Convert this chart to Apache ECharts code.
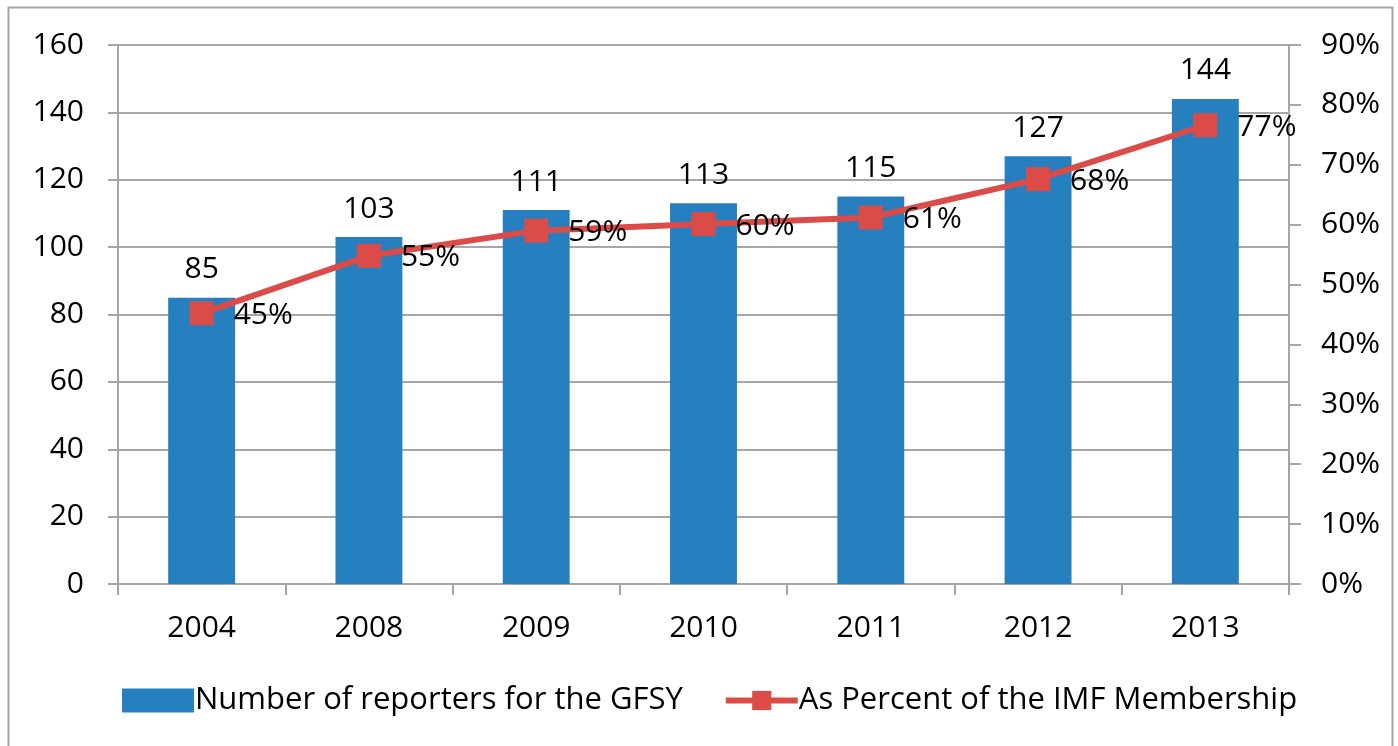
<!DOCTYPE html>
<html>
<head>
<meta charset="utf-8">
<script src="https://cdn.jsdelivr.net/npm/echarts@6/dist/echarts.min.js"></script>
<style>
  html, body { margin: 0; padding: 0; background: #fff; }
  #chart { width: 1398px; height: 746px; }
</style>
</head>
<body>
<div id="chart"></div>
<script>
// values
var years = ['2004', '2008', '2009', '2010', '2011', '2012', '2013'];
var reporters = [85, 103, 111, 113, 115, 127, 144];
var percentOfMembers = [0.452, 0.548, 0.590, 0.601, 0.612, 0.676, 0.766];

var font = '"Open Sans", Lato, sans-serif';
var axisGrey = '#a6a6a6';
var red = '#db4c49';

var chart = echarts.init(document.getElementById('chart'));
var option = {
    animation: false,
    textStyle: { fontFamily: font },
    graphic: [{
        type: 'rect',
        shape: { x: 8.5, y: 7.5, width: 1384, height: 750 },
        style: { fill: 'none', stroke: '#a6a6a6', lineWidth: 2 }
    }],
    grid: { left: 118, right: 109, top: 45, bottom: 162 },
    legend: {
        bottom: 25,
        left: 117,
        itemWidth: 72,
        itemHeight: 24,
        itemGap: 40,
        textStyle: { fontSize: 31, color: '#000', fontFamily: font, padding: [0, 0, 0, -4] },
        data: [
            { name: 'Number of reporters for the GFSY', icon: 'rect' },
            { name: 'As Percent of the IMF Membership', lineStyle: { width: 6, color: red } }
        ]
    },
    xAxis: {
        type: 'category',
        data: years,
        boundaryGap: true,
        axisLine: { lineStyle: { color: axisGrey, width: 2 } },
        axisTick: { show: true, length: 11, lineStyle: { color: axisGrey, width: 2 } },
        axisLabel: { fontSize: 30, color: '#000', margin: 29 }
    },
    yAxis: [{
        type: 'value',
        min: 0, max: 160, interval: 20,
        axisLine: { show: true, lineStyle: { color: axisGrey, width: 2 } },
        axisTick: { show: true, inside: false, length: 10, lineStyle: { color: axisGrey, width: 2 } },
        splitLine: { show: true, lineStyle: { color: axisGrey, width: 2 } },
        axisLabel: { fontSize: 30, color: '#000', margin: 34 }
    }, {
        type: 'value',
        min: 0, max: 0.9, interval: 0.1,
        position: 'right',
        axisLine: { show: true, lineStyle: { color: axisGrey, width: 2 } },
        axisTick: { show: true, length: 12, lineStyle: { color: axisGrey, width: 2 } },
        splitLine: { show: false },
        axisLabel: {
            fontSize: 30, color: '#000', margin: 32,
            formatter: function (v) { return Math.round(v * 100) + '%'; }
        }
    }],
    series: [{
        name: 'Number of reporters for the GFSY',
        type: 'bar',
        data: reporters,
        barWidth: '40%',
        itemStyle: { color: '#2680c0' },
        label: { show: true, position: 'top', distance: 13, fontSize: 30, color: '#000' }
    }, {
        name: 'As Percent of the IMF Membership',
        type: 'line',
        yAxisIndex: 1,
        data: percentOfMembers,
        symbol: 'rect',
        symbolSize: 24,
        lineStyle: { color: red, width: 6 },
        itemStyle: { color: red },
        label: {
            show: true, position: 'right', distance: 20, fontSize: 30, color: '#000',
            offset: [0, 2],
            formatter: function (p) { return Math.round(p.value * 100) + '%'; }
        }
    }]
};
chart.setOption(option);
</script>
</body>
</html>
